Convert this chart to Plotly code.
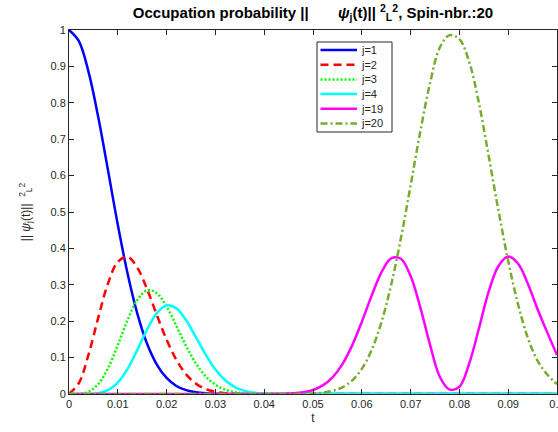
import plotly.graph_objects as go

# time samples (s)
t = [0.000, 0.002, 0.004, 0.006, 0.008, 0.010, 0.012, 0.014, 0.016, 0.018,
     0.020, 0.022, 0.024, 0.026, 0.028, 0.030, 0.032, 0.034, 0.036, 0.038,
     0.040, 0.042, 0.044, 0.046, 0.048, 0.050, 0.052, 0.054, 0.056, 0.058,
     0.060, 0.062, 0.064, 0.066, 0.068, 0.070, 0.072, 0.074, 0.076, 0.078,
     0.080, 0.082, 0.084, 0.086, 0.088, 0.090, 0.092, 0.094, 0.096, 0.098,
     0.100]

# occupation probabilities per spin site
p_j1 = [1.0, 0.970, 0.885, 0.760, 0.614, 0.465, 0.331, 0.221, 0.138, 0.081,
        0.044, 0.022, 0.0105, 0.0046, 0.0018, 0.0007, 0.0002, 0, 0, 0,
        0, 0, 0, 0, 0, 0, 0, 0, 0, 0,
        0, 0, 0, 0, 0, 0, 0, 0, 0, 0,
        0, 0, 0, 0, 0, 0, 0, 0, 0, 0,
        0]
p_j2 = [0, 0.0295, 0.108, 0.210, 0.304, 0.363, 0.377, 0.347, 0.288, 0.217,
        0.149, 0.094, 0.054, 0.0285, 0.0137, 0.0060, 0.0024, 0.0009, 0.0003, 0,
        0, 0, 0, 0, 0, 0, 0, 0, 0, 0,
        0, 0, 0, 0, 0, 0, 0, 0, 0, 0,
        0, 0, 0, 0, 0, 0, 0, 0, 0, 0,
        0]
p_j3 = [0, 0.0004, 0.0063, 0.0275, 0.0712, 0.1344, 0.2031, 0.2584, 0.2848, 0.2769,
        0.2402, 0.1872, 0.1318, 0.0840, 0.0486, 0.0254, 0.0120, 0.0052, 0.0020, 0.0007,
        0.0002, 0, 0, 0, 0, 0, 0, 0, 0, 0,
        0, 0, 0, 0, 0, 0, 0, 0, 0, 0,
        0, 0, 0, 0, 0, 0, 0, 0, 0, 0,
        0]
p_j4 = [0, 0, 0.0002, 0.0023, 0.0105, 0.0313, 0.0689, 0.1211, 0.1772, 0.2223,
        0.2433, 0.2352, 0.2025, 0.1561, 0.1082, 0.0674, 0.0378, 0.0191, 0.0086, 0.0035,
        0.0013, 0.0004, 0.0001, 0, 0, 0, 0, 0, 0, 0,
        0, 0, 0, 0, 0, 0, 0, 0, 0, 0,
        0, 0, 0, 0, 0, 0, 0, 0, 0, 0,
        0]
p_j19 = [0, 0, 0, 0, 0, 0, 0, 0, 0, 0,
         0, 0, 0, 0, 0, 0, 0, 0, 0, 0,
         0, 0.0002, 0.0007, 0.0019, 0.0048, 0.0111, 0.0236, 0.0459, 0.0816, 0.1329,
         0.1980, 0.2695, 0.3335, 0.3727, 0.3717, 0.3239, 0.2373, 0.1344, 0.0467, 0.012,
         0.020, 0.0834, 0.1800, 0.2811, 0.3515, 0.3778, 0.3586, 0.3034, 0.2337, 0.1693,
         0.1073]
p_j20 = [0, 0, 0, 0, 0, 0, 0, 0, 0, 0,
         0, 0, 0, 0, 0, 0, 0, 0, 0, 0,
         0, 0, 0.0001, 0.0002, 0.0005, 0.0014, 0.0036, 0.0085, 0.0183, 0.0369,
         0.0689, 0.1203, 0.1960, 0.2989, 0.4269, 0.5730, 0.7218, 0.8551, 0.9522, 0.986,
         0.975, 0.9129, 0.7994, 0.6536, 0.5045, 0.3653, 0.2474, 0.1548, 0.0918, 0.0534,
         0.0270]

series_names = ["j=1", "j=2", "j=3", "j=4", "j=19", "j=20"]
series_values = [p_j1, p_j2, p_j3, p_j4, p_j19, p_j20]
series_colors = ["#0000FF", "#FF0000", "#00FF00", "#00FFFF", "#FF00FF", "#77AC30"]
series_dash = ["solid", "8px,5px", "2px,2px", "solid", "solid", "7px,3px,2px,3px"]

x_ticks = [0, 0.01, 0.02, 0.03, 0.04, 0.05, 0.06, 0.07, 0.08, 0.09, 0.1]
x_tick_text = ["0", "0.01", "0.02", "0.03", "0.04", "0.05", "0.06", "0.07", "0.08", "0.09", "0.1"]
y_ticks = [0, 0.1, 0.2, 0.3, 0.4, 0.5, 0.6, 0.7, 0.8, 0.9, 1]
y_tick_text = ["0", "0.1", "0.2", "0.3", "0.4", "0.5", "0.6", "0.7", "0.8", "0.9", "1"]

FONT = "Liberation Sans, Arial, Helvetica, sans-serif"
AXIS_COLOR = "#262626"
W, H = 558, 432
M_L, M_R, M_T, M_B = 69, 1, 30, 38
PLOT_W = W - M_L - M_R
PLOT_H = H - M_T - M_B

fig = go.Figure()
for name, vals, col, dash in zip(series_names, series_values, series_colors, series_dash):
    fig.add_trace(go.Scatter(
        x=t, y=vals, mode="lines", name=name, showlegend=False,
        line=dict(color=col, width=2.5, dash=dash, shape="spline", smoothing=1.0),
    ))


# compact boxed legend in the upper middle of the axes (pixel layout -> paper coords)
def px_x(px):
    return (px - M_L) / PLOT_W


def px_y(py):
    return (H - M_B - py) / PLOT_H


box_left, box_right, box_top, box_bottom = 317, 392, 42, 132
row_first, row_gap = 50, 14.7
sample_left, sample_right, label_left = 320.5, 357, 359

shapes = [dict(type="rect", xref="paper", yref="paper",
               x0=px_x(box_left), x1=px_x(box_right),
               y0=px_y(box_bottom), y1=px_y(box_top),
               line=dict(color=AXIS_COLOR, width=1), fillcolor="white", layer="above")]
annotations = []
for k, (name, col, dash) in enumerate(zip(series_names, series_colors, series_dash)):
    yy = px_y(row_first + k * row_gap)
    shapes.append(dict(type="line", xref="paper", yref="paper",
                       x0=px_x(sample_left), x1=px_x(sample_right), y0=yy, y1=yy,
                       line=dict(color=col, width=2.5, dash=dash), layer="above"))
    annotations.append(dict(text=name, xref="paper", yref="paper",
                            x=px_x(label_left), y=yy, xanchor="left", yanchor="middle",
                            showarrow=False, font=dict(family=FONT, size=11, color=AXIS_COLOR)))

nb = "\u00a0"
title_text = ("<b>Occupation probability ||" + nb * 7 +
              "<i>ψ</i><sub>j</sub>(t)||" + nb +
              "<sup>2</sup><sub>L</sub><sup>2</sup>, Spin-nbr.:20</b>")
ylabel_text = ("||" + nb + "<i>ψ</i><sub>j</sub>(t)||" + nb * 2 +
               "<sup>2</sup><sub>L</sub><sup>2</sup>")

axis_common = dict(
    showline=True, linecolor=AXIS_COLOR, linewidth=1, mirror="ticks",
    ticks="inside", ticklen=5, tickwidth=1, tickcolor=AXIS_COLOR,
    showgrid=False, zeroline=False, automargin=False,
    tickfont=dict(family=FONT, size=11, color=AXIS_COLOR),
)

fig.update_layout(
    width=W, height=H,
    margin=dict(l=M_L, r=M_R, t=M_T, b=M_B, pad=0),
    paper_bgcolor="white", plot_bgcolor="white",
    font=dict(family=FONT, color=AXIS_COLOR),
    title=dict(text=title_text, x=0.5, xref="paper", xanchor="center",
               y=1 - 13 / H, yref="container", yanchor="middle",
               font=dict(family=FONT, size=15, color="black")),
    xaxis=dict(range=[0, 0.1], tickvals=x_ticks, ticktext=x_tick_text,
               ticklabeloverflow="allow",
               title=dict(text="t", font=dict(family=FONT, size=12, color=AXIS_COLOR), standoff=4),
               **axis_common),
    yaxis=dict(range=[0, 1], tickvals=y_ticks, ticktext=y_tick_text,
               title=dict(text=ylabel_text, font=dict(family=FONT, size=12, color=AXIS_COLOR), standoff=17),
               **axis_common),
    shapes=shapes,
    annotations=annotations,
    showlegend=False,
)

fig.write_html("out.html")
